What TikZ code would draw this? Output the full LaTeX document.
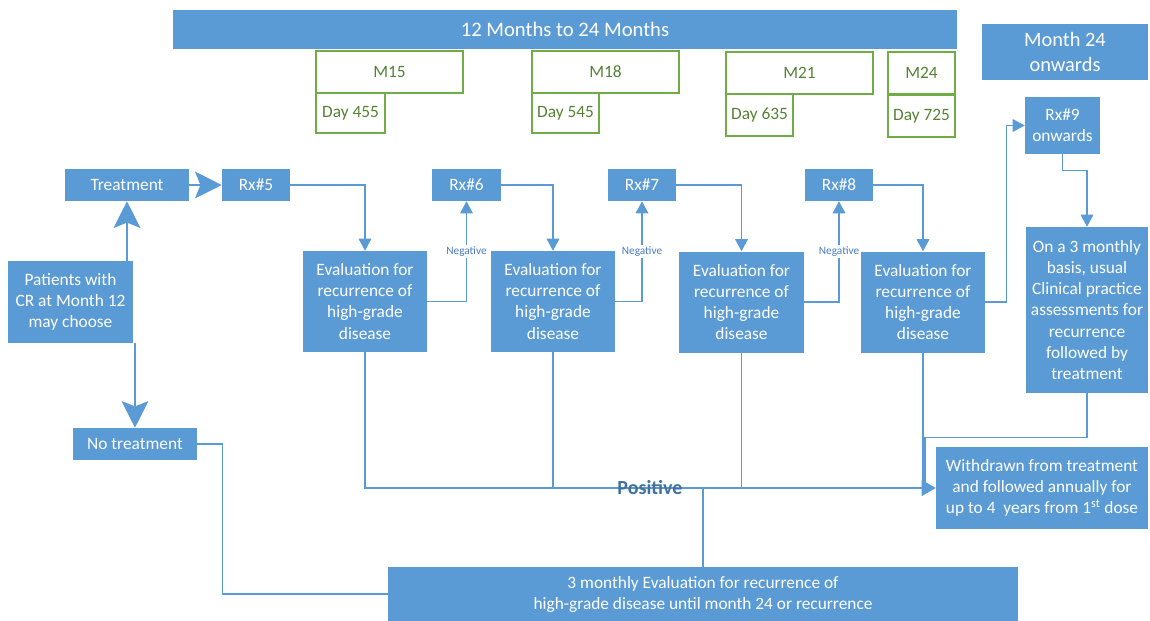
\documentclass[tikz,border=0pt]{standalone}
\usepackage{fontspec}
\setmainfont{Carlito}
\definecolor{flow_blue}{RGB}{91, 155, 213}
\definecolor{flow_line}{RGB}{91, 155, 213}
\definecolor{flow_neg}{RGB}{74, 126, 187}
\definecolor{flow_pos}{RGB}{65, 113, 156}
\definecolor{flow_green}{RGB}{112, 173, 71}
\definecolor{flow_gtext}{RGB}{84, 130, 53}
\usepackage{tikz}
\usetikzlibrary{arrows.meta, positioning}

\begin{document}
\begin{tikzpicture}[x=0.75pt, y=-0.75pt,
    font=\fontsize{13}{15.8}\selectfont,
    sz/.style 2 args={minimum width=#1*0.75pt, minimum height=#2*0.75pt},
    blubox/.style={fill=flow_blue, text=white, align=center, inner sep=0pt},
    grnbox/.style={draw=flow_green, line width=0.9pt, text=flow_gtext, inner sep=0pt},
    link/.style={draw=flow_line, line width=0.8pt},
    arrowlink/.style={link, -{Triangle[length=9pt, width=9.5pt]}},
    bigarrow/.style={draw=flow_blue, line width=1pt, -{Stealth[length=20pt, width=20pt, inset=4pt]}},
    neglab/.style={fill=white, text=flow_neg, inner sep=1pt, font=\fontsize{8.5}{10}\selectfont},
  ]
  \useasboundingbox (0,0) rectangle (1150,621);

  % Bandeaux du haut
  \node[blubox, sz={784}{39}, font=\fontsize{15.5}{18}\selectfont] (period) at (565,29.5) {12 Months to 24 Months};
  \node[blubox, sz={166}{56}, font=\fontsize{15.3}{18.7}\selectfont] (month24) at (1065,52) {Month 24\\onwards};

  % Visites
  \node[grnbox, sz={147}{42}] (m15) at (389.5,72) {M15};
  \node[grnbox, sz={69}{40}] (d455) at (350.5,113) {Day 455};
  \node[grnbox, sz={147}{42}] (m18) at (605.5,72) {M18};
  \node[grnbox, sz={67}{40}] (d545) at (565.5,113) {Day 545};
  \node[grnbox, sz={147}{42}] (m21) at (799.5,73) {M21};
  \node[grnbox, sz={67}{42}] (d635) at (759.5,115) {Day 635};
  \node[grnbox, sz={67}{42}] (m24) at (921.5,73) {M24};
  \node[grnbox, sz={67}{42}] (d725) at (921.5,116) {Day 725};

  % Choix du patient
  \node[blubox, sz={124}{32}] (treat) at (127,185) {Treatment};
  \node[blubox, sz={125}{82}] (patients) at (70.5,302) {Patients with\\CR at Month 12\\may choose};
  \node[blubox, sz={124}{32}] (notreat) at (135,444) {No treatment};

  % Traitements
  \node[blubox, sz={68}{32}] (rx5) at (256,185) {Rx\#5};
  \node[blubox, sz={69}{32}] (rx6) at (466.5,185) {Rx\#6};
  \node[blubox, sz={68}{32}] (rx7) at (642,185) {Rx\#7};
  \node[blubox, sz={68}{32}] (rx8) at (839,185) {Rx\#8};
  \node[blubox, sz={75}{57}] (rx9) at (1062.5,125.5) {Rx\#9\\onwards};

  % Evaluations
  \node[blubox, sz={124}{101}] (eval1) at (365,301.5) {Evaluation for\\recurrence of\\high-grade\\disease};
  \node[blubox, sz={124}{101}] (eval2) at (553,301.5) {Evaluation for\\recurrence of\\high-grade\\disease};
  \node[blubox, sz={125}{101}] (eval3) at (741.5,302) {Evaluation for\\recurrence of\\high-grade\\disease};
  \node[blubox, sz={124}{101}] (eval4) at (923,302) {Evaluation for\\recurrence of\\high-grade\\disease};
  \node[blubox, sz={122}{166}] (onbasis) at (1087,310) {On a 3 monthly\\basis, usual\\Clinical practice\\assessments for\\recurrence\\followed by\\treatment};

  % Sorties
  \node[blubox, sz={212}{82}] (withdrawn) at (1042,488) {Withdrawn from treatment\\and followed annually for\\up to 4\ \ years from 1\textsuperscript{st} dose};
  \node[blubox, sz={630}{54}] (followup) at (703,594) {3 monthly Evaluation for recurrence of\\high-grade disease until month 24 or recurrence};

  % Grosses fleches
  \draw[bigarrow] (treat) -- (rx5);
  \draw[bigarrow] (patients.north -| treat.south) -- (treat.south);
  \draw[bigarrow] (notreat.north |- patients.south) -- (notreat.north);

  % Enchainement Rx -> evaluation
  \draw[arrowlink] (rx5.east) -| (eval1.north);
  \draw[arrowlink] (rx6.east) -| (eval2.north);
  \draw[arrowlink] (rx7.east) -| (eval3.north);
  \draw[arrowlink] (rx8.east) -| (eval4.north);

  % Resultat negatif
  \draw[arrowlink] (eval1.east) -| node[neglab, pos=0.75] {Negative} (rx6.south);
  \draw[arrowlink] (eval2.east) -| node[neglab, pos=0.75] {Negative} (rx7.south);
  \draw[arrowlink] (eval3.east) -| node[neglab, pos=0.75] {Negative} (rx8.south);
  \draw[arrowlink] (eval4.east) -- ++(21,0) |- (rx9.west);
  \draw[arrowlink] (rx9.south) -- ++(0,16) -| (onbasis.north);

  % Resultat positif
  \draw[link, -{Triangle[length=10.5pt, width=12pt]}] (eval1.south) |- (withdrawn.west);
  \draw[link] (eval2.south) -- (eval2.south |- withdrawn.west);
  \draw[link] (eval3.south) -- (eval3.south |- withdrawn.west);
  \draw[link] (eval4.south) -- (eval4.south |- withdrawn.west);
  \coordinate (wjoin) at (925,488);
  \draw[link] (onbasis.south) -- ++(0,44) -| (wjoin);
  \node[text=flow_pos, font=\bfseries\fontsize{15}{18}\selectfont] (positive) at (650,488) {Positive};

  % Suivi
  \draw[link] (followup.north) -- (followup.north |- withdrawn.west);
  \draw[link] (notreat.east) -- ++(25,0) |- (followup.west);
\end{tikzpicture}
\end{document}
